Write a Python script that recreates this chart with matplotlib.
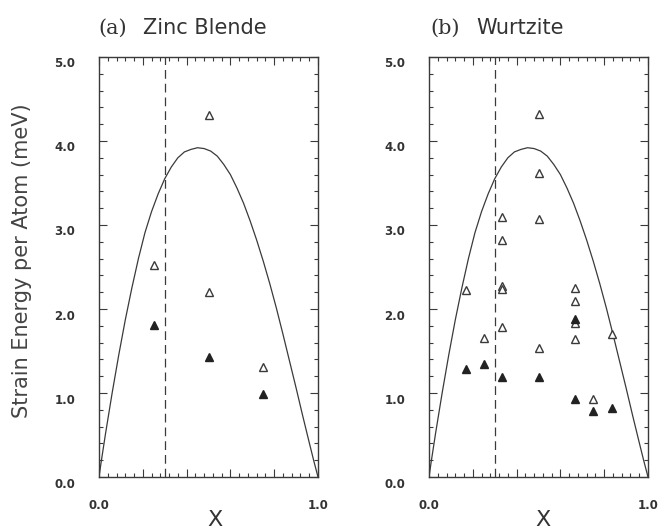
import matplotlib
matplotlib.use("Agg")
import matplotlib.pyplot as plt
import matplotlib.transforms as mtransforms
from matplotlib.ticker import MultipleLocator, FixedLocator

# strain energy curve (same in both panels)
curve_x = [0.0, 0.01, 0.03, 0.06, 0.09, 0.12, 0.15, 0.18, 0.21, 0.24, 0.27, 0.30,
           0.33, 0.36, 0.39, 0.42, 0.45, 0.48, 0.51, 0.54, 0.57, 0.60, 0.63,
           0.66, 0.69, 0.72, 0.75, 0.78, 0.81, 0.84, 0.87, 0.90, 0.93, 0.96,
           0.98, 1.0]
curve_y = [0.0, 0.18, 0.52, 1.00, 1.45, 1.87, 2.25, 2.60, 2.91, 3.16, 3.37, 3.55,
           3.69, 3.80, 3.87, 3.90, 3.92, 3.91, 3.88, 3.82, 3.72, 3.60, 3.44,
           3.26, 3.05, 2.82, 2.57, 2.30, 2.01, 1.70, 1.38, 1.06, 0.73, 0.41,
           0.20, 0.0]
x_crit = 0.3

# (a) zinc blende
zb_open_x = [0.25, 0.5, 0.5, 0.75]
zb_open_y = [2.52, 4.31, 2.20, 1.31]
zb_fill_x = [0.25, 0.5, 0.75]
zb_fill_y = [1.81, 1.43, 0.99]

# (b) wurtzite
wz_open_x = [1/6, 1/4, 1/3, 1/3, 1/3, 1/3, 1/3, 1/2, 1/2, 1/2, 1/2,
             2/3, 2/3, 2/3, 2/3, 3/4, 5/6]
wz_open_y = [2.23, 1.65, 3.09, 2.82, 2.27, 2.24, 1.78, 4.32, 3.62, 3.07, 1.54,
             2.25, 2.10, 1.83, 1.64, 0.93, 1.70]
wz_fill_x = [1/6, 1/4, 1/3, 1/2, 2/3, 2/3, 3/4, 5/6]
wz_fill_y = [1.29, 1.34, 1.19, 1.19, 1.88, 0.925, 0.79, 0.82]

ink = "#3a3a3a"
W, H = 662, 529
fig = plt.figure(figsize=(W / 100, H / 100), dpi=100)

panels = [
    (99, "(a)", "Zinc Blende", 127, 143, zb_open_x, zb_open_y, zb_fill_x, zb_fill_y, 215),
    (429, "(b)", "Wurtzite", 460, 476, wz_open_x, wz_open_y, wz_fill_x, wz_fill_y, 543),
]

for left, tag, name, tag_r, name_l, ox, oy, fx, fy, xlab in panels:
    ax = fig.add_axes([left / W, (H - 477) / H, 219 / W, 420 / H])
    ax.plot(curve_x, curve_y, color=ink, lw=0.9)
    ax.axvline(x_crit, color=ink, lw=0.9, dashes=(7, 4))
    ax.plot(ox, oy, ls="none", marker="^", ms=5.5, mfc="white", mec=ink, mew=1.0)
    ax.plot(fx, fy, ls="none", marker="^", ms=5.5, mfc="#222222", mec="#222222")

    ax.set_xlim(0, 1)
    ax.set_ylim(0, 5)
    ax.xaxis.set_major_locator(FixedLocator([0, 0.2, 0.4, 0.6, 0.8, 1.0]))
    ax.set_xticklabels(["0.0", "", "", "", "", "1.0"])
    ax.xaxis.set_minor_locator(MultipleLocator(0.04))
    ax.yaxis.set_minor_locator(MultipleLocator(0.2))
    ax.set_yticks([0, 1, 2, 3, 4, 5])
    ax.set_yticklabels(["0.0", "1.0", "2.0", "3.0", "4.0", "5.0"])

    ax.tick_params(which="both", direction="in", top=True, right=True,
                   color=ink, width=0.8, labelcolor="#333333", labelsize=8.5)
    ax.tick_params(which="major", length=5.5)
    ax.tick_params(which="minor", length=2.8)
    ax.tick_params(axis="x", pad=16)
    ax.tick_params(axis="y", pad=17)
    for lab in ax.get_xticklabels() + ax.get_yticklabels():
        lab.set_fontweight("bold")
    shift = mtransforms.ScaledTranslation(0, -0.055, fig.dpi_scale_trans)
    for lab in ax.get_yticklabels():
        lab.set_transform(lab.get_transform() + shift)
    for sp in ax.spines.values():
        sp.set_color(ink)
        sp.set_linewidth(1.0)

    fig.text(tag_r / W, (H - 34) / H, tag, ha="right", va="baseline",
             fontsize=15, family="DejaVu Serif", color="#333333")
    fig.text(name_l / W, (H - 34) / H, name, ha="left", va="baseline",
             fontsize=15, color="#333333")
    fig.text(xlab / W, (H - 526) / H, "X", ha="center", va="baseline",
             fontsize=16, color="#333333")

fig.text(22 / W, (H - 261) / H, "Strain Energy per Atom (meV)", rotation=90,
         ha="center", va="center", fontsize=15, color="#444444")

fig.savefig("out.png", dpi=100)
